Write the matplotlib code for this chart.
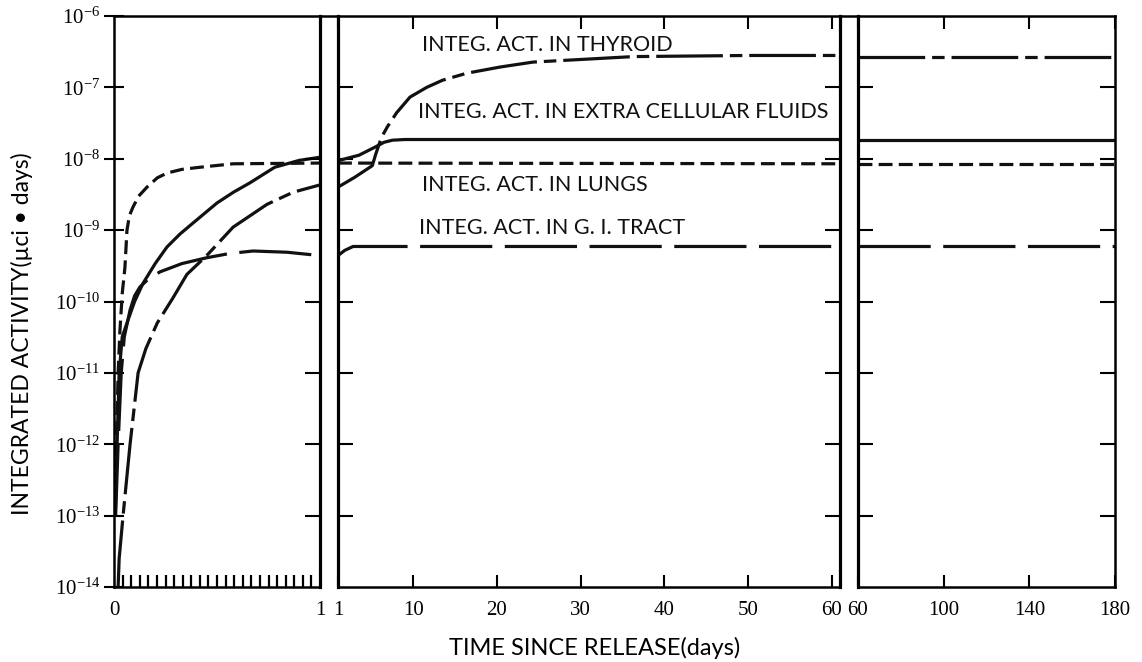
import matplotlib
matplotlib.use('Agg')
import matplotlib.pyplot as plt
from matplotlib.lines import Line2D
from matplotlib.ticker import NullLocator, FixedLocator

plt.rcParams['lines.scale_dashes'] = False
plt.rcParams['font.family'] = ['Liberation Serif', 'DejaVu Serif']
plt.rcParams['mathtext.default'] = 'regular'

W, H = 1142, 662

# ---- data: integrated activity (uCi-days) ----
# panel 1: first day
thy_t1 = [0.02, 0.025, 0.044, 0.078, 0.117, 0.155, 0.21, 0.286, 0.354, 0.45, 0.578, 0.743, 0.87, 1.0]
thy_a1 = [1e-14, 2.5e-14, 1e-13, 1e-12, 1e-11, 2.2e-11, 5.0e-11, 1.12e-10, 2.4e-10, 4.4e-10,
          1.1e-9, 2.3e-9, 3.4e-9, 4.3e-9]
ecf_t1 = [0.006, 0.015, 0.025, 0.04, 0.068, 0.10, 0.141, 0.20, 0.257, 0.32, 0.384, 0.50, 0.58,
          0.66, 0.78, 0.90, 1.0]
ecf_a1 = [1e-13, 1e-12, 1e-11, 3.2e-11, 5.5e-11, 1.0e-10, 1.8e-10, 3.4e-10, 5.8e-10, 8.8e-10,
          1.26e-9, 2.4e-9, 3.4e-9, 4.6e-9, 7.6e-9, 9.5e-9, 1.05e-8]
lung_t1 = [0.005, 0.012, 0.02, 0.029, 0.04, 0.053, 0.063, 0.075, 0.092, 0.12, 0.16, 0.21, 0.257,
           0.33, 0.417, 0.578, 1.0]
lung_a1 = [1e-13, 1e-12, 1e-11, 4.0e-11, 1.3e-10, 3.0e-10, 1.0e-9, 1.6e-9, 2.1e-9, 3.0e-9, 4.0e-9,
           5.4e-9, 6.3e-9, 7.1e-9, 7.6e-9, 8.5e-9, 8.7e-9]
gi_t1 = [0.008, 0.02, 0.035, 0.05, 0.078, 0.10, 0.126, 0.17, 0.223, 0.33, 0.45, 0.56, 0.675,
         0.84, 1.0]
gi_a1 = [1e-13, 1e-12, 1e-11, 3.2e-11, 7.6e-11, 1.2e-10, 1.6e-10, 2.1e-10, 2.6e-10, 3.4e-10,
         4.1e-10, 4.7e-10, 5.1e-10, 4.9e-10, 4.4e-10]

# panel 2: days 1 - 60
thy_t2 = [1, 3.0, 5.1, 5.5, 6.2, 6.9, 8.0, 9.6, 11.6, 13.5, 16.4, 20.4, 24.3, 36.3, 50.2, 61]
thy_a2 = [4.0e-9, 5.5e-9, 8.0e-9, 1.15e-8, 2.0e-8, 2.8e-8, 4.4e-8, 7.3e-8, 1.0e-7, 1.26e-7,
          1.58e-7, 1.93e-7, 2.26e-7, 2.7e-7, 2.8e-7, 2.8e-7]
ecf_t2 = [1, 3.5, 5.4, 6.5, 7.5, 9.0, 61]
ecf_a2 = [9.4e-9, 1.12e-8, 1.45e-8, 1.7e-8, 1.82e-8, 1.86e-8, 1.86e-8]
lung_t2 = [1, 61]
lung_a2 = [8.7e-9, 8.5e-9]
gi_t2 = [1, 1.8, 2.8, 61]
gi_a2 = [4.4e-10, 5.2e-10, 5.9e-10, 5.9e-10]

# panel 3: days 60 - 180
t3 = [60, 180]
thy_a3 = [2.7e-7, 2.7e-7]
ecf_a3 = [1.86e-8, 1.86e-8]
lung_a3 = [8.5e-9, 8.5e-9]
gi_a3 = [5.9e-10, 5.9e-10]

decades = [1e-14, 1e-13, 1e-12, 1e-11, 1e-10, 1e-9, 1e-8, 1e-7, 1e-6]
decade_labels = ['$10^{-14}$', '$10^{-13}$', '$10^{-12}$', '$10^{-11}$', '$10^{-10}$',
                 '$10^{-9}$', '$10^{-8}$', '$10^{-7}$', '$10^{-6}$']

labels = {
    'thy': 'INTEG. ACT. IN THYROID',
    'ecf': 'INTEG. ACT. IN EXTRA CELLULAR FLUIDS',
    'lung': 'INTEG. ACT. IN LUNGS',
    'gi': 'INTEG. ACT. IN G. I. TRACT',
}
label_pos = {'thy': (11.0, 3.9e-7), 'ecf': (10.6, 4.5e-8), 'lung': (11.0, 4.3e-9), 'gi': (10.7, 1.07e-9)}

STYLE = {
    'thy': dict(dashes=(48, 5, 9, 5)),
    'ecf': dict(linestyle='-'),
    'lung': dict(dashes=(10, 4.5)),
    'gi': dict(dashes=(52, 9)),
}
INK = '#111111'
LW = 2.3

fig = plt.figure(figsize=(W / 100, H / 100), dpi=100)


def px_axes(x0, x1):
    return fig.add_axes([x0 / W, 1 - 587 / H, (x1 - x0) / W, (587 - 16) / H])


ax1 = px_axes(114, 320)
ax2 = px_axes(338, 840)
ax3 = px_axes(858, 1115)

series = [
    (ax1, {'thy': (thy_t1, thy_a1), 'ecf': (ecf_t1, ecf_a1), 'lung': (lung_t1, lung_a1), 'gi': (gi_t1, gi_a1)}),
    (ax2, {'thy': (thy_t2, thy_a2), 'ecf': (ecf_t2, ecf_a2), 'lung': (lung_t2, lung_a2), 'gi': (gi_t2, gi_a2)}),
    (ax3, {'thy': (t3, thy_a3), 'ecf': (t3, ecf_a3), 'lung': (t3, lung_a3), 'gi': (t3, gi_a3)}),
]
for ax, curves in series:
    for key, (tt, aa) in curves.items():
        ax.plot(tt, aa, color=INK, lw=LW, solid_capstyle='butt', dash_capstyle='butt',
                solid_joinstyle='round', **STYLE[key])
    ax.set_yscale('log')
    ax.set_ylim(1e-14, 1e-6)
    ax.yaxis.set_minor_locator(NullLocator())
    for sp in ax.spines.values():
        sp.set_linewidth(1.8)

# panel 1
ax1.set_xlim(0, 1)
ax1.set_xticks([0, 1])
ax1.set_xticklabels(['0', '1'])
ax1.xaxis.set_minor_locator(FixedLocator([k / 24 for k in range(1, 24)]))
ax1.tick_params(axis='x', which='major', length=0, labelsize=15, pad=10)
ax1.tick_params(axis='x', which='minor', direction='in', length=8.5, width=1.6, bottom=True, top=False)
ax1.set_yticks(decades)
ax1.set_yticklabels(decade_labels)
ax1.tick_params(axis='y', which='major', direction='inout', length=14, width=1.5,
                left=True, right=False, labelsize=15, pad=3)
ax1.spines['right'].set_linewidth(2.3)
ax1r = ax1.twinx()
ax1r.set_yscale('log')
ax1r.set_ylim(1e-14, 1e-6)
ax1r.set_yticks(decades[1:-1])
ax1r.yaxis.set_minor_locator(NullLocator())
ax1r.tick_params(axis='y', direction='in', length=11, width=1.5, labelright=False)
for sp in ax1r.spines.values():
    sp.set_visible(False)

# panel 2
ax2.set_xlim(1, 61)
ax2.set_xticks([1, 10, 20, 30, 40, 50, 60])
ax2.tick_params(axis='x', direction='in', length=9, width=1.5, top=True, bottom=True,
                labelsize=15, pad=10)
ax2.set_yticks(decades[1:-1])
ax2.set_yticklabels([])
ax2.tick_params(axis='y', direction='in', length=11, width=1.5, left=True, right=True)
ax2.spines['left'].set_linewidth(2.3)
ax2.spines['right'].set_linewidth(2.3)

# panel 3
ax3.set_xlim(60, 180)
ax3.set_xticks([60, 100, 140, 180])
ax3.tick_params(axis='x', direction='in', length=9, width=1.5, top=True, bottom=True,
                labelsize=15, pad=10)
ax3.set_yticks(decades[1:-1])
ax3.set_yticklabels([])
ax3.tick_params(axis='y', direction='in', length=11, width=1.5, left=True, right=True)
ax3.spines['left'].set_linewidth(2.3)

# top border runs across the breaks
for xa, xb in [(320, 338), (840, 858)]:
    fig.add_artist(Line2D([xa / W, xb / W], [1 - 16 / H, 1 - 16 / H],
                          transform=fig.transFigure, color='black', lw=1.8))

for key, text in labels.items():
    x, y = label_pos[key]
    ax2.text(x, y, text, fontsize=15.5, va='center', ha='left', family=['Lato', 'DejaVu Sans'], color=INK)

fig.text(22 / W, 1 - 334 / H, 'INTEGRATED ACTIVITY(\u00b5ci \u2022 days)', rotation=90,
         ha='center', va='center', fontsize=16.5, family=['Lato', 'DejaVu Sans'])
fig.text(595 / W, 1 - 648 / H, 'TIME SINCE RELEASE(days)', ha='center', va='center',
         fontsize=17, family=['Lato', 'DejaVu Sans'])

fig.savefig('out.png', dpi=100)
